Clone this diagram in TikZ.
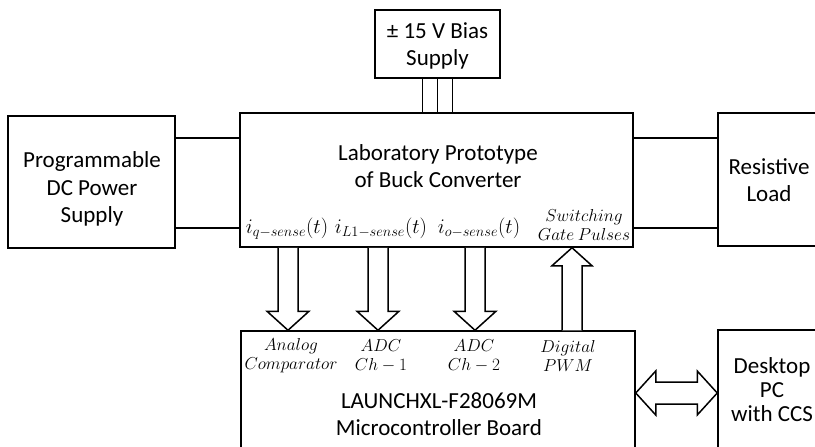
\documentclass[tikz,border=0pt]{standalone}
\usepackage{fontspec}
\setmainfont{Carlito}
\usetikzlibrary{calc}

\tikzset{
  box/.style={draw, line width=1.5pt, fill=white, inner sep=0pt},
  title/.style={align=center, inner sep=0pt, font=\fontsize{23}{27.5}\selectfont},
  sig/.style={align=center, inner sep=0pt, font=\fontsize{17}{19}\selectfont},
  sense/.style={inner sep=0pt, anchor=base, font=\fontsize{21}{23}\selectfont},
  wire/.style={line width=1.5pt},
  hollow/.style={draw, line width=1.5pt, fill=white, line join=miter},
}

% open block arrow pointing down from #1 (shaft start) to #2 (tip)
\newcommand\blockdown[2]{%
  \draw[hollow] let \p1=(#1), \p2=(#2) in
    (\x1-10pt,\y1) -- (\x1-10pt,\y2+19pt) -- (\x1-21pt,\y2+19pt) -- (\x2,\y2)
    -- (\x1+21pt,\y2+19pt) -- (\x1+10pt,\y2+19pt) -- (\x1+10pt,\y1);}
% open block arrow pointing up from #1 (shaft start) to #2 (tip)
\newcommand\blockup[2]{%
  \draw[hollow] let \p1=(#1), \p2=(#2) in
    (\x1-10pt,\y1) -- (\x1-10pt,\y2-18pt) -- (\x1-20pt,\y2-18pt) -- (\x2,\y2)
    -- (\x1+20pt,\y2-18pt) -- (\x1+10pt,\y2-18pt) -- (\x1+10pt,\y1);}
% open double-headed block arrow between #1 (left tip) and #2 (right tip)
\newcommand\blockboth[2]{%
  \draw[hollow] let \p1=(#1), \p2=(#2) in
    (\x1,\y1) -- (\x1+20pt,\y1+22pt) -- (\x1+20pt,\y1+11pt) -- (\x2-20pt,\y1+11pt)
    -- (\x2-20pt,\y1+22pt) -- (\x2,\y1) -- (\x2-20pt,\y1-22pt) -- (\x2-20pt,\y1-11pt)
    -- (\x1+20pt,\y1-11pt) -- (\x1+20pt,\y1-22pt) -- cycle;}

\begin{document}
\begin{tikzpicture}[x=1pt, y=-1pt]
\useasboundingbox (0,0) rectangle (815,447);

% blocks
\node[box, minimum width=125, minimum height=68]  (bias)  at (437.5,44) {};
\node[box, minimum width=393, minimum height=134] (buck)  at (436.5,180) {};
\node[box, minimum width=167, minimum height=132] (psu)   at (91.5,182) {};
\node[box, minimum width=104, minimum height=133] (load)  at (770,179.5) {};
\node[box, minimum width=394, minimum height=140] (mcu)   at (438,401) {};
\node[box, minimum width=104, minimum height=140] (pc)    at (770,400) {};

% block titles
\node[title] (biast)  at (437.5,46) {± 15 V Bias\\Supply};
\node[title] (buckt)  at (438,166)  {Laboratory Prototype\\of Buck Converter};
\node[title] (psut)   at (92,189)   {Programmable\\DC Power\\Supply};
\node[title] (loadt)  at (769,180)  {Resistive\\Load};
\node[title, font=\fontsize{23}{24}\selectfont] (pct) at (772,390) {Desktop\\PC\\with CCS};
\node[title] (mcut)   at (439,414)  {LAUNCHXL-F28069M\\Microcontroller Board};

% sensed signals inside the converter block
\node[sense] (iq)  at (287,233) {$i_{q-sense}(t)$};
\node[sense] (il)  at (381,233) {$i_{L1-sense}(t)$};
\node[sense] (io)  at (479,233) {$i_{o-sense}(t)$};
\node[sig]   (gate) at (584,224.5) {$Switching$\\$Gate\ Pulses$};

% peripherals inside the microcontroller block
\node[sig] (cmp)  at (291,356) {$Analog$\\$Comparator$};
\node[sig] (adc1) at (381,356) {$ADC$\\$Ch-1$};
\node[sig] (adc2) at (474,356) {$ADC$\\$Ch-2$};
\node[sig] (pwm)  at (568,356) {$Digital$\\$PWM$};

% bias supply rails
\draw[wire] ($(bias.south)+(-15,0)$) -- ($(buck.north)+(-14,0)$);
\draw[wire] ($(bias.south)+(0,0)$)   -- ($(buck.north)+(1,0)$);
\draw[wire] ($(bias.south)+(15,0)$)  -- ($(buck.north)+(16,0)$);

% power connections
\coordinate (railA) at (0,138);
\coordinate (railB) at (0,228);
\draw[wire] (psu.east |- railA) -- (buck.west |- railA);
\draw[wire] (psu.east |- railB) -- (buck.west |- railB);
\draw[wire] (buck.east |- railA) -- (load.west |- railA);
\draw[wire] (buck.east |- railB) -- (load.west |- railB);

% signal paths between the converter and the controller
\coordinate (xq) at (288,0);
\coordinate (xl) at (378,0);
\coordinate (xo) at (475,0);
\coordinate (xg) at (572,0);
\blockdown{buck.south -| xq}{mcu.north -| xq}
\blockdown{buck.south -| xl}{mcu.north -| xl}
\blockdown{buck.south -| xo}{mcu.north -| xo}
\blockup{mcu.north -| xg}{buck.south -| xg}

% link to the host PC
\coordinate (link) at (0,393);
\blockboth{mcu.east |- link}{pc.west |- link}
\end{tikzpicture}
\end{document}
